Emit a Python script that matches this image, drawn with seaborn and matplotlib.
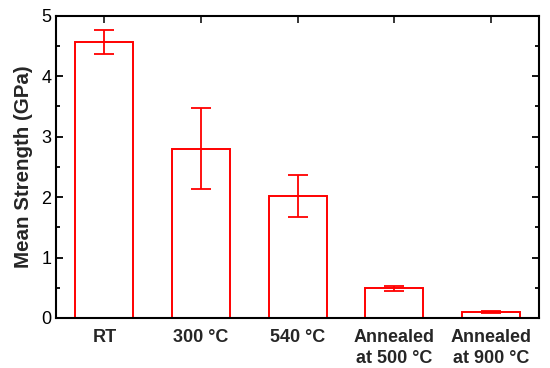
import matplotlib
matplotlib.use("Agg")
import matplotlib.pyplot as plt
import seaborn as sns
import numpy as np
import pandas as pd
from matplotlib.ticker import MultipleLocator

# data
conditions = ["RT", "300 °C", "540 °C", "Annealed\nat 500 °C", "Annealed\nat 900 °C"]
mean_strength = [4.57, 2.80, 2.02, 0.49, 0.10]
err_low = [0.20, 0.67, 0.35, 0.04, 0.01]
err_high = [0.20, 0.67, 0.35, 0.04, 0.01]

df = pd.DataFrame({"condition": conditions, "strength": mean_strength})

sns.set_style("ticks")
plt.rcParams["font.family"] = ["Liberation Sans", "DejaVu Sans"]

fig, ax = plt.subplots(figsize=(5.5, 3.68), dpi=100)

sns.barplot(data=df, x="condition", y="strength", fill=False, color="red",
            width=0.6, linewidth=1.4, edgecolor="#ff0000", errorbar=None, ax=ax)
for p in ax.patches:
    p.set_edgecolor("#ff0000")

ax.errorbar(np.arange(len(conditions)), mean_strength, yerr=[err_low, err_high],
            fmt="none", ecolor="#ff0000", elinewidth=1.3, capsize=7, capthick=1.3)

ax.set_xlim(-0.5, 4.5)
ax.set_ylim(0, 5)
ax.yaxis.set_major_locator(MultipleLocator(1))
ax.yaxis.set_minor_locator(MultipleLocator(0.5))

for s in ax.spines.values():
    s.set_visible(True)
    s.set_linewidth(1.5)
    s.set_color("black")

ax.tick_params(axis="y", which="both", direction="in", left=True, right=True,
               labelsize=13, width=1.3, colors="black")
ax.tick_params(axis="y", which="major", length=5)
ax.tick_params(axis="y", which="minor", length=3)
ax.tick_params(axis="x", which="both", direction="in", top=True, bottom=False,
               length=5, width=1.3, labelsize=13, pad=8)
for lbl in ax.get_xticklabels():
    lbl.set_fontweight("bold")
    lbl.set_linespacing(1.3)

ax.set_xlabel("")
ax.set_ylabel("Mean Strength (GPa)", fontsize=14.8, fontweight="bold", labelpad=6)

fig.subplots_adjust(left=0.102, right=0.98, top=0.957, bottom=0.136)
fig.savefig("out.png", dpi=100)
